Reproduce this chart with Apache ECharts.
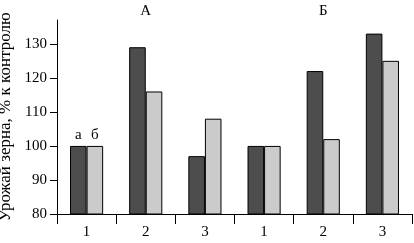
<!DOCTYPE html>
<html><head><meta charset="utf-8">
<script src="https://cdn.jsdelivr.net/npm/echarts@6/dist/echarts.min.js"></script>
<style>html,body{margin:0;padding:0;background:#fff}#c{width:414px;height:243px}</style>
</head><body><div id="c"></div>
<script>
const categories = ['1','2','3','1','2','3'];
const groups = ['А','Б'];
const seriesA = [100,129,97,100,122,133];
const seriesB = [100,116,108,100,102,125];
const barLabels = ['а','б'];
const yTicks = [80,90,100,110,120,130];
const yName = 'Урожай зерна, % к контролю';

const font = 'Liberation Serif';
const chart = echarts.init(document.getElementById('c'));
function mk(data, color, lab){
  return {
    type:'bar', xAxisIndex:0, barGap:'0%', barCategoryGap:'44%',
    itemStyle:{color:color, borderColor:'#000', borderWidth:1},
    data: data.map((v,i)=> i===0 ? {value:v, label:{show:true, position:'top', distance:3, formatter:lab, color:'#000', fontFamily:font, fontSize:15}} : v),
    animation:false, silent:true
  };
}
chart.setOption({
  animation:false,
  grid:{left:57, right:2, top:20, bottom:29, containLabel:false, outerBoundsMode:'none'},
  xAxis:[{
    type:'category', data:categories, boundaryGap:true,
    axisLine:{lineStyle:{color:'#000', width:1}},
    axisTick:{show:true, inside:false, length:10, lineStyle:{color:'#000'}},
    axisLabel:{color:'#000', fontFamily:font, fontSize:15, margin:11}
  },{
    type:'category', data:groups, position:'top', boundaryGap:true,
    axisLine:{show:false}, axisTick:{show:false},
    axisLabel:{color:'#000', fontFamily:font, fontSize:15, margin:1}
  }],
  yAxis:{
    type:'value', min:80, max:137, interval:10,
    name:yName, nameLocation:'middle', nameGap:37,
    nameTextStyle:{color:'#000', fontFamily:font, fontSize:17},
    splitLine:{show:false},
    axisLine:{show:true, lineStyle:{color:'#000', width:1}},
    axisTick:{show:true, length:7, lineStyle:{color:'#000'}, customValues:yTicks},
    axisLabel:{color:'#000', fontFamily:font, fontSize:15, margin:10, customValues:yTicks}
  },
  series:[mk(seriesA,'#4d4d4d',barLabels[0]), mk(seriesB,'#cbcbcb',barLabels[1])]
});
</script></body></html>
